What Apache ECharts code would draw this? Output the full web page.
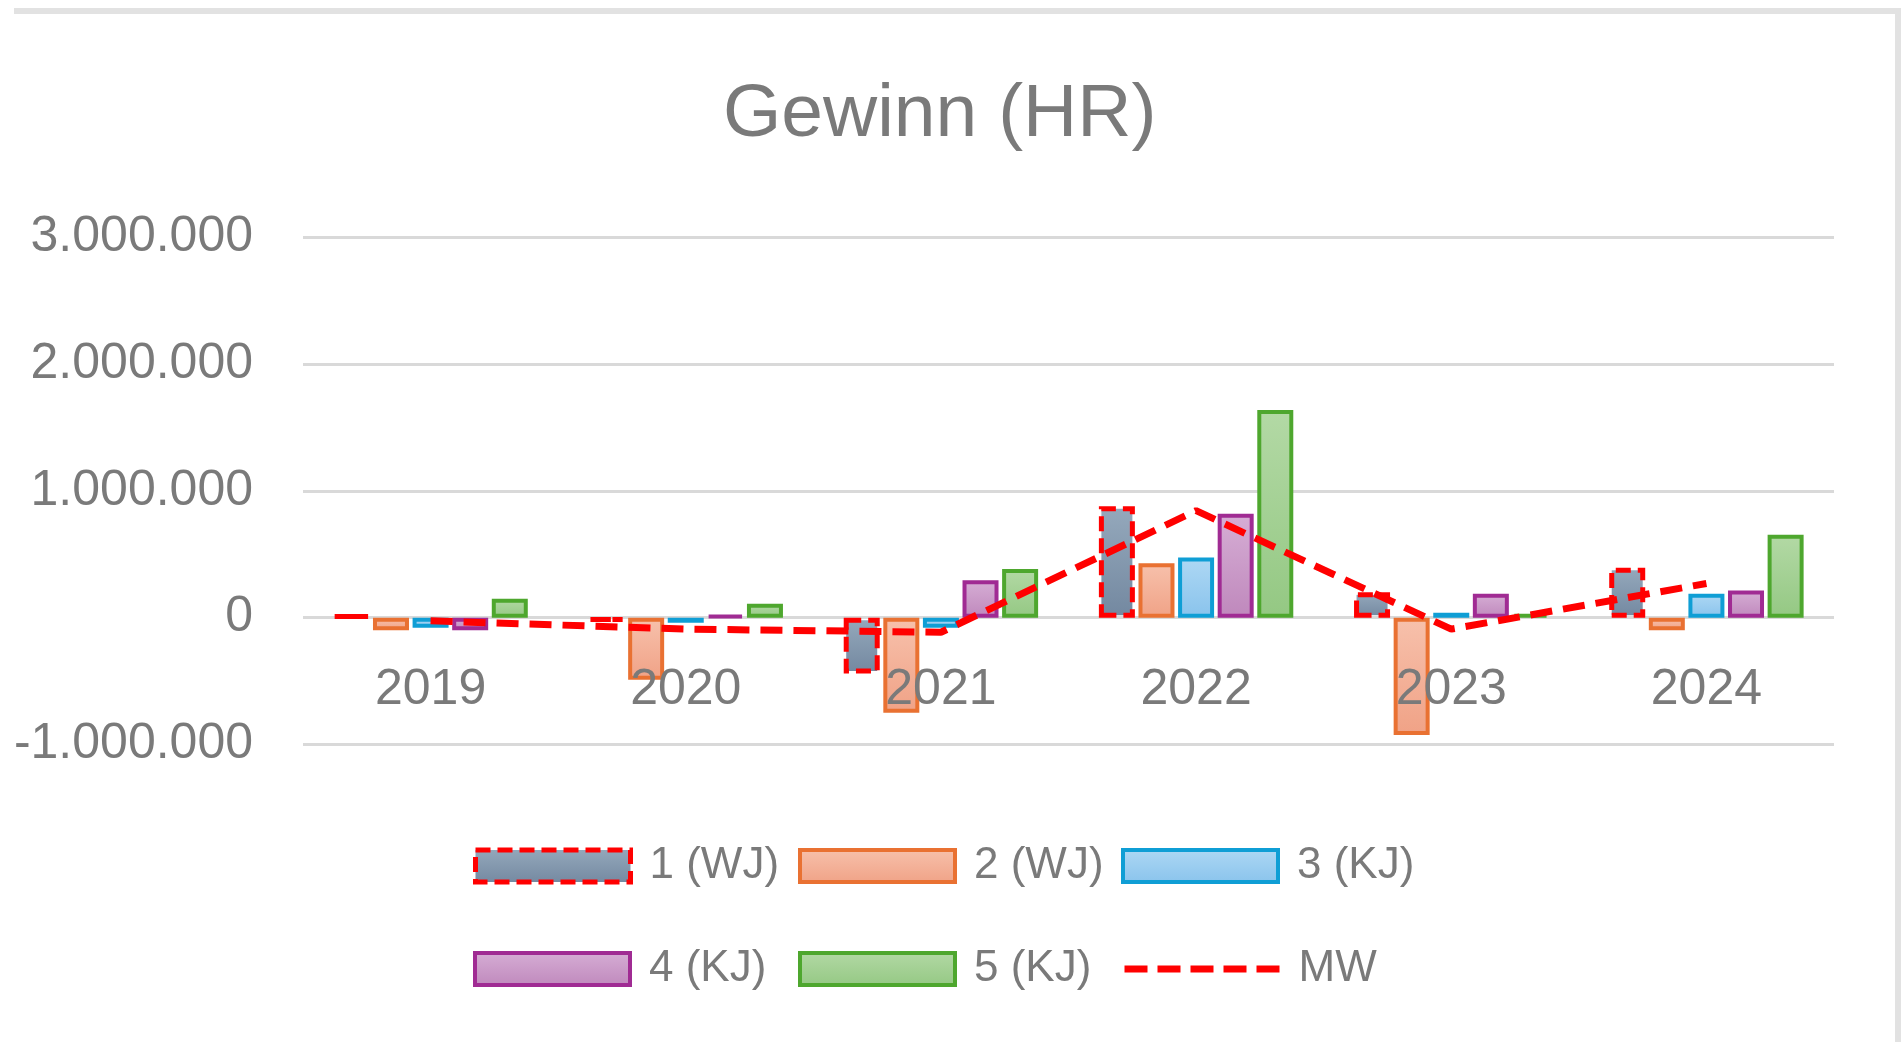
<!DOCTYPE html>
<html>
<head>
<meta charset="utf-8">
<script src="https://cdn.jsdelivr.net/npm/echarts@6/dist/echarts.min.js"></script>
<style>
html,body{margin:0;padding:0;background:#fff;}
#chart{position:absolute;left:0;top:0;width:1901px;height:1042px;}
#bt{position:absolute;left:14px;top:8px;width:1887px;height:6px;background:#e2e2e2;}
#br{position:absolute;left:1895px;top:10px;width:6px;height:1032px;background:#e2e2e2;}
</style>
</head>
<body>
<div id="chart"></div>
<div id="bt"></div>
<div id="br"></div>
<script>
const categories = ['2019', '2020', '2021', '2022', '2023', '2024'];
const seriesNames = ['1 (WJ)', '2 (WJ)', '3 (KJ)', '4 (KJ)', '5 (KJ)', 'MW'];
const s1 = [20000, -30000, -440000, 880000, 200000, 395000];
const s2 = [-100000, -490000, -750000, 430000, -925000, -100000];
const s3 = [-80000, -40000, -80000, 475000, 40000, 190000];
const s4 = [-100000, 20000, 295000, 820000, 190000, 215000];
const s5 = [150000, 110000, 385000, 1640000, 30000, 655000];
const mw = [-25000, -90000, -115000, 845000, -90000, 270000];
const yTicks = [-1000000, 0, 1000000, 2000000, 3000000];

const FONT = '"Liberation Sans", Arial, sans-serif';
const TXT = '#7a7a7a';

function grad(top, bottom) {
  return new echarts.graphic.LinearGradient(0, 0, 0, 1, [
    {offset: 0, color: top}, {offset: 1, color: bottom}
  ]);
}
function fmt(v) {
  const s = String(Math.abs(v)).replace(/\B(?=(\d{3})+(?!\d))/g, '.');
  return (v < 0 ? '-' : '') + s;
}

const barStyles = [
  {color: grad('#95a9bc', '#7388a0'), borderColor: '#ff0000', borderWidth: 5, borderType: [15, 7]},
  {color: grad('#f7c1ac', '#f0a286'), borderColor: '#e97132', borderWidth: 4, borderType: 'solid'},
  {color: grad('#aed8f4', '#89c3ec'), borderColor: '#0f9ed5', borderWidth: 4, borderType: 'solid'},
  {color: grad('#d6aed5', '#bf88bc'), borderColor: '#a02b93', borderWidth: 4, borderType: 'solid'},
  {color: grad('#b3d9a5', '#94c883'), borderColor: '#4ea72e', borderWidth: 4, borderType: 'solid'}
];
const barData = [s1, s2, s3, s4, s5];

const series = barData.map((d, i) => ({
  name: seriesNames[i],
  type: 'bar',
  data: d,
  barWidth: 36,
  barGap: '10%',
  itemStyle: barStyles[i],
  z: 2
}));
series.push({
  name: seriesNames[5],
  type: 'line',
  data: mw,
  symbol: 'none',
  lineStyle: {color: '#ff0000', width: 7, type: [22, 11], cap: 'butt'},
  itemStyle: {color: '#ff0000'},
  z: 5
});

const legendPos = [
  [473, 841], [798, 841], [1121, 841],
  [473, 944], [798, 944], [1121, 944]
];
const legends = seriesNames.map((n, i) => {
  const lg = {
    data: [n],
    left: legendPos[i][0],
    top: legendPos[i][1],
    padding: 0,
    itemWidth: 155,
    itemHeight: 32,
    selectedMode: false,
    textStyle: {fontFamily: FONT, fontSize: 44, color: TXT, lineHeight: 50, padding: [0, 0, 0, 14]}
  };
  if (i < 5) {
    lg.icon = 'rect';
    lg.itemStyle = {borderType: barStyles[i].borderType, borderWidth: barStyles[i].borderWidth};
  } else {
    lg.lineStyle = {width: 7, type: [23, 10]};
    lg.itemStyle = {opacity: 0, color: 'rgba(0,0,0,0)', borderWidth: 0};
  }
  return lg;
});

const chart = echarts.init(document.getElementById('chart'), null, {renderer: 'canvas'});
chart.setOption({
  animation: false,
  backgroundColor: '#ffffff',
  title: {
    text: 'Gewinn (HR)',
    left: 718,
    top: 73,
    textStyle: {fontFamily: FONT, fontSize: 75, fontWeight: 'normal', color: TXT}
  },
  legend: legends,
  grid: {left: 303, right: 67, top: 237.6, bottom: 297.6, containLabel: false},
  xAxis: {
    type: 'category',
    data: categories,
    z: 10,
    axisLine: {show: false, onZero: false},
    axisTick: {show: false},
    axisLabel: {fontFamily: FONT, fontSize: 50, color: TXT, margin: -79}
  },
  yAxis: {
    type: 'value',
    min: yTicks[0],
    max: yTicks[yTicks.length - 1],
    interval: 1000000,
    axisLine: {show: false},
    axisTick: {show: false},
    splitLine: {lineStyle: {color: '#d9d9d9', width: 3}},
    axisLabel: {fontFamily: FONT, fontSize: 50, color: TXT, margin: 50, formatter: fmt}
  },
  series: series
});
</script>
</body>
</html>
